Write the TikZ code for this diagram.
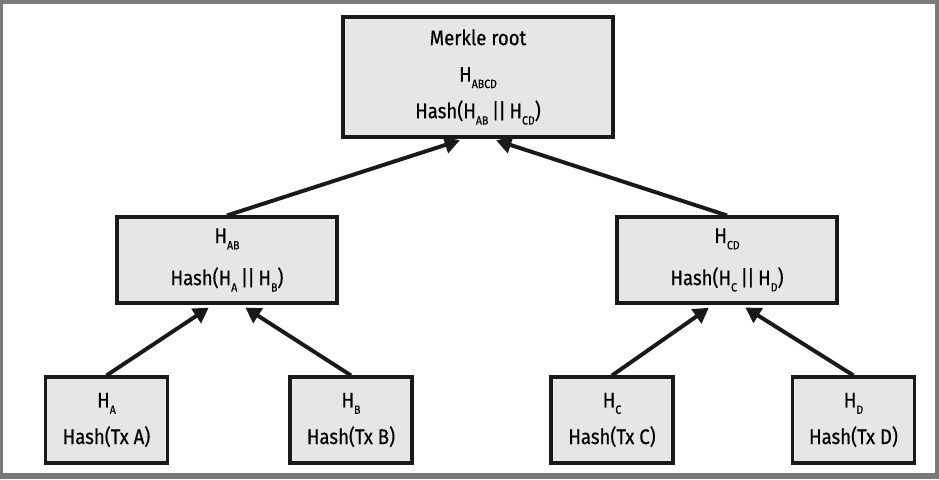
\documentclass[tikz,border=0pt]{standalone}
\usepackage{fontspec}
\setmainfont{Fira Sans}[FakeStretch=0.88, FakeBold=0.5]
\definecolor{boxfill}{RGB}{230, 230, 230}
\definecolor{boxline}{RGB}{25, 25, 25}
\definecolor{framegray}{RGB}{122, 122, 122}
\usepackage{tikz}
\usetikzlibrary{arrows.meta, positioning}
\newcommand{\hsub}[1]{\raisebox{-0.3em}{\fontsize{8.5}{8.5}\selectfont #1}}
\newcommand{\hcat}{\,|\kern-0.6pt|\,}
\tikzset{
    hashbox/.style={rectangle, draw=boxline, fill=boxfill, line width=2.2pt, inner sep=0pt, align=center, font=\fontsize{15}{26}\selectfont},
    rootbox/.style={hashbox, minimum width=6.75cm, minimum height=3cm},
    pairbox/.style={hashbox, minimum width=5.5cm, minimum height=2.15cm},
    leafbox/.style={hashbox, minimum width=3.05cm, minimum height=2.15cm},
    arrow/.style={line width=2.8pt, -{Triangle[length=0.38cm, width=0.42cm]}, boxline, shorten >=0.14cm}
}
\begin{document}
\begin{tikzpicture}
    % Frame
    \fill[framegray] (0, 0) rectangle (23.475, -11.975);
    \fill[white] (0.0875, -0.1) rectangle (23.375, -11.825);

    % Merkle root
    \node[rootbox] (root) at (11.95, -1.925) {Merkle root\\H\hsub{ABCD}\\Hash(H\hsub{AB}\hcat H\hsub{CD})};

    % Intermediate hashes
    \node[pairbox] (hAB) at (5.675, -6.5) {H\hsub{AB}\\[4pt]Hash(H\hsub{A}\hcat H\hsub{B})};
    \node[pairbox] (hCD) at (18.175, -6.5) {H\hsub{CD}\\[4pt]Hash(H\hsub{C}\hcat H\hsub{D})};

    % Leaves
    \node[leafbox] (hA) at (2.6625, -10.5) {H\hsub{A}\\Hash(Tx A)};
    \node[leafbox] (hB) at (8.775, -10.5) {H\hsub{B}\\Hash(Tx B)};
    \node[leafbox] (hC) at (15.3, -10.5) {H\hsub{C}\\Hash(Tx C)};
    \node[leafbox] (hD) at (21.3375, -10.5) {H\hsub{D}\\Hash(Tx D)};

    % Arrows
    \draw[arrow] (hAB.north) -- ([xshift=-0.32cm]root.south);
    \draw[arrow] (hCD.north) -- ([xshift=0.32cm]root.south);
    \draw[arrow] (hA.north) -- ([xshift=-0.34cm]hAB.south);
    \draw[arrow] (hB.north) -- ([xshift=0.34cm]hAB.south);
    \draw[arrow] (hC.north) -- ([xshift=-0.34cm]hCD.south);
    \draw[arrow] (hD.north) -- ([xshift=0.34cm]hCD.south);
\end{tikzpicture}
\end{document}
